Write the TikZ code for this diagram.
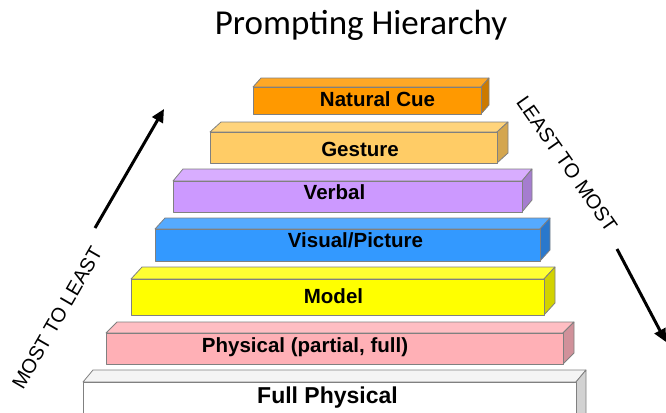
\documentclass[tikz,border=0pt]{standalone}
\usepackage{fontspec}
\setmainfont{Liberation Sans}
\newfontfamily\titlefont{Carlito}
\newfontfamily\labfont{Liberation Sans Bold}
\usetikzlibrary{arrows.meta}
\definecolor{edgegray}{HTML}{808080}
\definecolor{ncF}{HTML}{FF9900}\definecolor{ncT}{HTML}{FFA826}\definecolor{ncS}{HTML}{CC7A00}
\definecolor{geF}{HTML}{FFCC66}\definecolor{geT}{HTML}{FFD47C}\definecolor{geS}{HTML}{D4A64F}
\definecolor{veF}{HTML}{CC99FF}\definecolor{veT}{HTML}{D8ADFF}\definecolor{veS}{HTML}{A57DCF}
\definecolor{viF}{HTML}{3399FF}\definecolor{viT}{HTML}{55AAFF}\definecolor{viS}{HTML}{2A78CC}
\definecolor{moF}{HTML}{FFFF00}\definecolor{moT}{HTML}{FFFF33}\definecolor{moS}{HTML}{D2D200}
\definecolor{phF}{HTML}{FFB0B6}\definecolor{phT}{HTML}{FFBEC3}\definecolor{phS}{HTML}{D0919A}
\definecolor{fpF}{HTML}{FFFFFF}\definecolor{fpT}{HTML}{F4F4F4}\definecolor{fpS}{HTML}{D2D2D2}
\tikzset{
  barlabel/.style={font=\labfont\fontsize{20.5}{24}\selectfont, anchor=base, inner sep=0pt},
  sidetext/.style={font=\fontsize{20}{24}\selectfont, inner sep=0pt},
  bigarrow/.style={line width=3pt, -{Triangle[length=13pt,width=12pt]}},
  faceline/.style={draw=edgegray, line width=0.8pt, line join=round}
}
% #1 L, #2 R, #3 T, #4 F, #5 B, #6 dx, #7 dy, #8 color prefix
\newcommand{\mybar}[8]{%
  \filldraw[faceline, fill=#8T] (#1,#4) -- (#1+#6,#3) -- (#2+#6,#3) -- (#2,#4) -- cycle;
  \filldraw[faceline, fill=#8S] (#2,#4) -- (#2+#6,#3) -- (#2+#6,#5-#7) -- (#2,#5) -- cycle;
  \filldraw[faceline, fill=#8F] (#1,#4) rectangle (#2,#5);
}
\begin{document}
\begin{tikzpicture}[x=1pt,y=-1pt]
\useasboundingbox (0,0) rectangle (666,412);
\node[font=\titlefont\fontsize{35}{40}\selectfont, anchor=base, inner sep=0pt] (title) at (361,35) {Prompting Hierarchy};
% bars
\mybar{83}{576}{370}{382}{430}{10}{12}{fp}
\mybar{106}{563}{322}{333}{364}{11}{11}{ph}
\mybar{131}{544}{267}{279}{315}{11}{12}{mo}
\mybar{155}{540}{218}{229}{261}{10}{11}{vi}
\mybar{173}{522}{169}{181}{212}{10}{12}{ve}
\mybar{210}{497}{122}{132}{163}{11}{10}{ge}
\mybar{253}{481}{78}{87}{114}{8}{9}{nc}
% labels
\node[barlabel] (nc) at (377.5,106) {Natural Cue};
\node[barlabel] (ge) at (360,156) {Gesture};
\node[barlabel] (ve) at (334.5,199) {Verbal};
\node[barlabel] (vi) at (355.5,247) {Visual/Picture};
\node[barlabel] (mo) at (333.5,303) {Model};
\node[barlabel] (ph) at (305,352) {Physical (partial, full)};
\node[barlabel, font=\labfont\fontsize{23}{27}\selectfont] (fp) at (327.5,403) {Full Physical};
% side texts
\node[sidetext, rotate=60] (mtl) at (57,318) {MOST TO LEAST};
\node[sidetext, rotate=-55] (ltm) at (567,164) {LEAST TO MOST};
% arrows
\coordinate (la1) at (95,228);
\coordinate (la2) at (164,109);
\coordinate (ra1) at (617,249);
\coordinate (ra2) at (666,342);
\draw[bigarrow] (la1) -- (la2);
\draw[bigarrow] (ra1) -- (ra2);
\end{tikzpicture}
\end{document}
